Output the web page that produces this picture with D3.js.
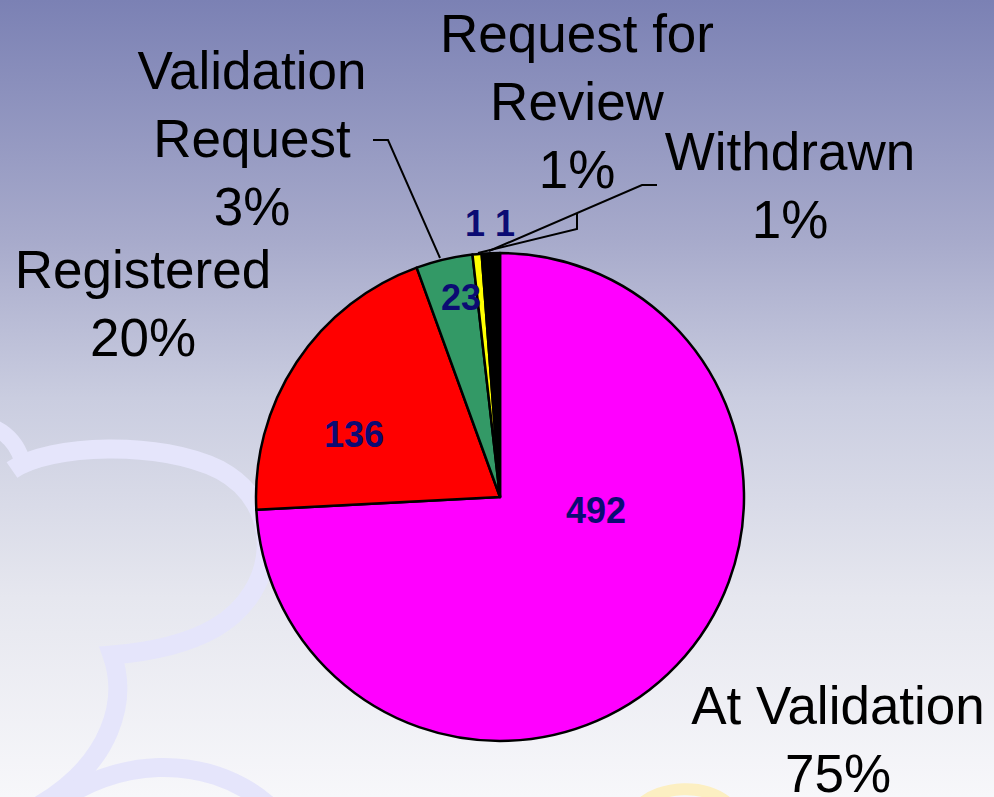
<!DOCTYPE html>
<html><head><meta charset="utf-8">
<script src="https://cdn.jsdelivr.net/npm/d3@7"></script>
<style>html,body{margin:0;padding:0;overflow:hidden;background:#fff}</style>
</head><body>
<svg id="chart" width="994" height="797"></svg>
<script>
// ---- data ----
const categories = ["At Validation", "Registered", "Validation Request", "Request for Review", "Withdrawn"];
const counts = [492, 136, 23, 1, 1];                 // data labels shown in slices
const percentLabels = ["75%", "20%", "3%", "1%", "1%"]; // percentage labels as printed
const sliceShares = [74.2, 20.3, 3.75, 0.6, 1.2];      // share of circle as drawn
const colors = ["#ff00ff", "#ff0000", "#339966", "#ffff00", "#000000"];

// ---- layout ----
const W = 994, H = 797;
const cx = 500, cy = 497, R = 244;
const svg = d3.select("#chart");

// background gradient
const defs = svg.append("defs");
const grad = defs.append("linearGradient").attr("id", "bg").attr("x1", 0).attr("y1", 0).attr("x2", 0).attr("y2", 1);
[[0, "#7b81b4"], [0.3, "#a7aacb"], [0.5, "#cacde0"], [0.75, "#e6e7ef"], [1, "#f7f7fa"]]
  .forEach(([o, c]) => grad.append("stop").attr("offset", o).attr("stop-color", c));
svg.append("rect").attr("width", W).attr("height", H).attr("fill", "url(#bg)");

// decorative background shapes
const deco = svg.append("g").attr("fill", "none").attr("stroke-linecap", "butt");
deco.append("path").attr("d", "M -5,428 Q 15,438 22,460").attr("stroke", "#e5e5fb").attr("stroke-width", 16);
deco.append("path")
  .attr("d", "M 12,470 C 50,444 160,440 220,470 C 285,505 280,590 215,628 C 185,645 150,652 112,655 C 128,700 112,762 40,805")
  .attr("stroke", "#e5e5fb").attr("stroke-width", 19);
deco.append("path").attr("d", "M 55,805 C 110,760 205,750 268,805").attr("stroke", "#e5e5fb").attr("stroke-width", 19);
deco.append("path").attr("d", "M 640,805 C 660,786 705,782 730,805").attr("stroke", "#fcefc2").attr("stroke-width", 12);

// pie
const pie = d3.pie().sort(null).value(d => d)(sliceShares);
const arc = d3.arc().innerRadius(0).outerRadius(R);
const g = svg.append("g").attr("transform", `translate(${cx},${cy})`);
g.selectAll("path.slice").data(pie).join("path")
  .attr("class", "slice")
  .attr("d", arc)
  .attr("fill", (d, i) => colors[i])
  .attr("stroke", "#000").attr("stroke-width", 2.5).attr("stroke-linejoin", "round");

// leader lines
const leaders = [
  [[440, 258], [388, 140], [373, 140]],
  [[478, 253], [577, 229], [577, 213]],
  [[489, 251], [642, 185], [657, 185]]
];
svg.append("g").selectAll("polyline").data(leaders).join("polyline")
  .attr("points", d => d.map(p => p.join(",")).join(" "))
  .attr("fill", "none").attr("stroke", "#000").attr("stroke-width", 2);

// count labels (value labels)
const countPos = [[596, 523], [354, 447], [461, 310], [475, 236], [505, 236]];
svg.append("g").selectAll("text").data(counts).join("text")
  .attr("x", (d, i) => countPos[i][0]).attr("y", (d, i) => countPos[i][1])
  .attr("text-anchor", "middle")
  .attr("font-family", "'Liberation Sans', Arial, sans-serif")
  .attr("font-weight", "bold").attr("font-size", 36).attr("fill", "#0b0b73")
  .text(d => d);

// category labels
const catLines = [
  ["At Validation"], ["Registered"], ["Validation", "Request"], ["Request for", "Review"], ["Withdrawn"]
];
const catPos = [[838, 724], [143, 288], [252, 89], [577, 52], [790, 170]];
const lineH = 68;
const lab = svg.append("g")
  .attr("font-family", "'Liberation Sans', Arial, sans-serif")
  .attr("font-size", 53).attr("fill", "#000").attr("text-anchor", "middle");
categories.forEach((c, i) => {
  const lines = catLines[i].concat([percentLabels[i]]);
  const t = lab.append("text").attr("x", catPos[i][0]).attr("y", catPos[i][1]);
  lines.forEach((l, k) => {
    t.append("tspan").attr("x", catPos[i][0]).attr("y", catPos[i][1] + k * lineH).text(l);
  });
});
</script>
</body></html>
